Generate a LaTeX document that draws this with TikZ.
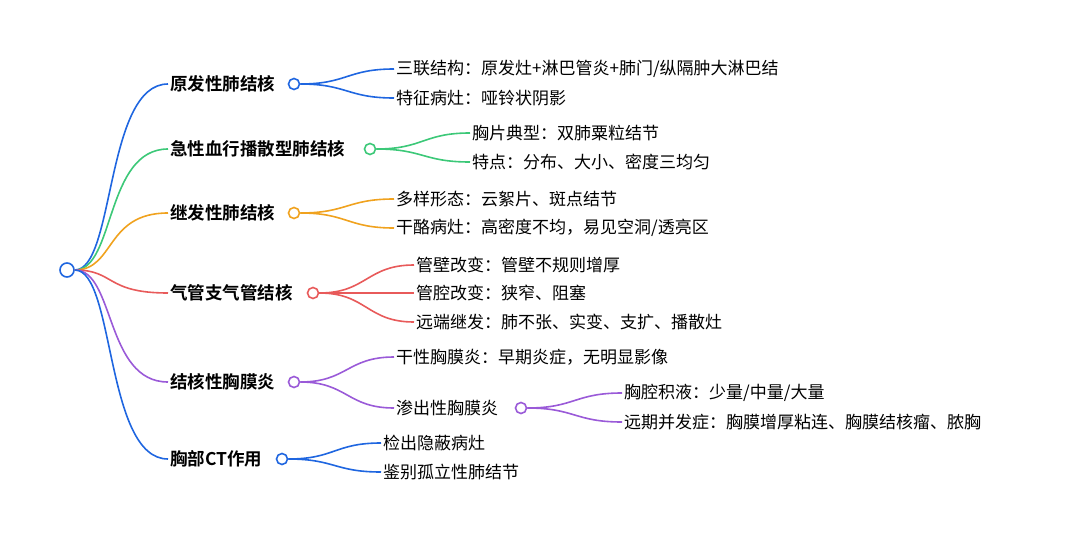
\documentclass[tikz,border=0pt]{standalone}
\usepackage{fontspec}
\setmainfont{Noto Sans CJK SC}[BoldFont={Noto Sans CJK SC Bold}]
\usetikzlibrary{calc}
\begin{document}
\begin{tikzpicture}[x=1pt,y=-1pt,font=\fontsize{17}{20}\selectfont,
  dot/.style={circle,draw=#1,fill=white,line width=1.6pt,minimum size=11pt,inner sep=0pt},
  lbl/.style={anchor=west,inner sep=2pt},
  blbl/.style={anchor=west,inner sep=2pt,font=\fontsize{17.5}{20}\selectfont\bfseries},
  cn/.style={draw=#1,line width=1.6pt}]
\definecolor{cb}{HTML}{1F66E0}
\definecolor{cg}{HTML}{3CC878}
\definecolor{co}{HTML}{F0A21E}
\definecolor{cr}{HTML}{E85A5A}
\definecolor{cp}{HTML}{9A5AD8}
\useasboundingbox (0,0) rectangle (1080,541);
\node[dot=cb,minimum size=14pt] (root) at (67,270) {};
% branch labels
\node[blbl] (b1) at (168,84) {原发性肺结核};
\node[blbl] (b2) at (168,149) {急性血行播散型肺结核};
\node[blbl] (b3) at (168,213) {继发性肺结核};
\node[blbl] (b4) at (168,293) {气管支气管结核};
\node[blbl] (b5) at (168,382) {结核性胸膜炎};
\node[blbl] (b6) at (168,459) {胸部CT作用};
\node[dot=cb] (c1) at (294,84) {};
\node[dot=cg] (c2) at (370,149) {};
\node[dot=co] (c3) at (294,213) {};
\node[dot=cr] (c4) at (313,293) {};
\node[dot=cp] (c5) at (294,382) {};
\node[dot=cb] (c6) at (282,459) {};
\foreach \b/\col in {b1/cb,b2/cg,b3/co,b4/cr,b5/cp,b6/cb}{
  \draw[cn=\col] (root.east) .. controls (115,270) and (105,0 |- \b.west) .. (\b.west);
}
% children
\node[lbl] (t11) at (394,69) {三联结构：原发灶+淋巴管炎+肺门/纵隔肿大淋巴结};
\node[lbl] (t12) at (394,98) {特征病灶：哑铃状阴影};
\node[lbl] (t21) at (470,133) {胸片典型：双肺粟粒结节};
\node[lbl] (t22) at (470,162) {特点：分布、大小、密度三均匀};
\node[lbl] (t31) at (394,199) {多样形态：云絮片、斑点结节};
\node[lbl] (t32) at (394,228) {干酪病灶：高密度不均，易见空洞/透亮区};
\node[lbl] (t41) at (414,265) {管壁改变：管壁不规则增厚};
\node[lbl] (t42) at (414,293) {管腔改变：狭窄、阻塞};
\node[lbl] (t43) at (414,322) {远端继发：肺不张、实变、支扩、播散灶};
\node[lbl] (t51) at (394,357) {干性胸膜炎：早期炎症，无明显影像};
\node[lbl] (t52) at (394,408) {渗出性胸膜炎};
\node[dot=cp] (c52) at (521,408) {};
\node[lbl] (t521) at (622,393) {胸腔积液：少量/中量/大量};
\node[lbl] (t522) at (622,422) {远期并发症：胸膜增厚粘连、胸膜结核瘤、脓胸};
\node[lbl] (t61) at (381,443) {检出隐蔽病灶};
\node[lbl] (t62) at (381,472) {鉴别孤立性肺结节};
\foreach \c/\t/\col in {c1/t11/cb,c1/t12/cb,c2/t21/cg,c2/t22/cg,c3/t31/co,c3/t32/co,
  c4/t41/cr,c4/t42/cr,c4/t43/cr,c5/t51/cp,c5/t52/cp,c52/t521/cp,c52/t522/cp,c6/t61/cb,c6/t62/cb}{
  \draw[cn=\col] (\c.east) .. controls ($(\c.east)!0.5!(\c.east -| \t.west)$) and ($(\t.west)!0.5!(\t.west -| \c.east)$) .. (\t.west);
}
\end{tikzpicture}
\end{document}
